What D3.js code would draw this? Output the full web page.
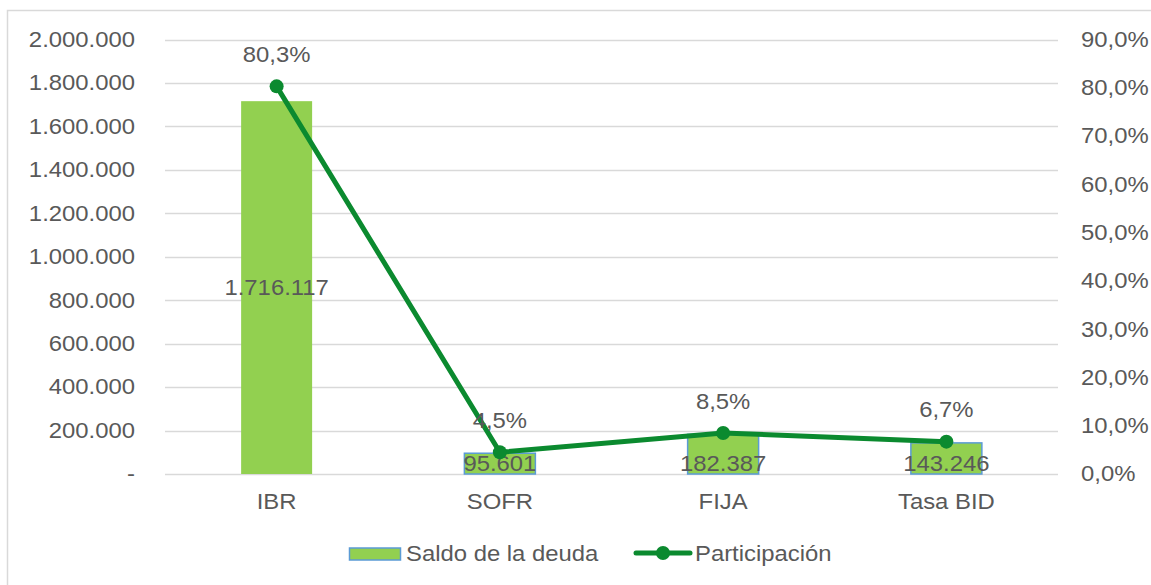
<!DOCTYPE html>
<html>
<head>
<meta charset="utf-8">
<script src="https://cdn.jsdelivr.net/npm/d3@7"></script>
<style>
  html, body { margin: 0; padding: 0; background: #fff; }
  svg { display: block; }
  text { font-family: "Liberation Sans", Arial, sans-serif; fill: #595959; }
</style>
</head>
<body>
<svg id="chart" width="1151" height="585"></svg>
<script>
// ---- data ----
const categories = ["IBR", "SOFR", "FIJA", "Tasa BID"];
const saldo = [1716117, 95601, 182387, 143246];
const participacion = [0.803, 0.045, 0.085, 0.067];
const leftTicks = [0, 200000, 400000, 600000, 800000, 1000000, 1200000, 1400000, 1600000, 1800000, 2000000];
const rightTicks = [0, 0.1, 0.2, 0.3, 0.4, 0.5, 0.6, 0.7, 0.8, 0.9];
const seriesNames = ["Saldo de la deuda", "Participación"];

// ---- styles ----
const barFill = "#92D050", barStroke = "#5B9BD5", lineColor = "#0B8A2F";
const gridColor = "#D9D9D9", fontSize = 21.5, sx = 1.11;

const loc = d3.formatLocale({decimal: ",", thousands: ".", grouping: [3], currency: ["$", ""]});
const fmtNum = v => v === 0 ? "-" : loc.format(",.0f")(v);
const fmtPct = loc.format(".1%");

const svg = d3.select("#chart");
const plot = {left: 165, right: 1058, top: 39.5, bottom: 474};

// place a text at (px,py) with a slight horizontal stretch
function putText(g, px, py, str, anchor) {
  return g.append("text")
    .attr("transform", `translate(${px},${py}) scale(${sx},1)`)
    .attr("text-anchor", anchor || "start").attr("dominant-baseline", "central")
    .attr("font-size", fontSize).text(str);
}

// chart border
svg.append("rect").attr("x", 7.5).attr("y", 10.5).attr("width", 1160).attr("height", 600)
  .attr("fill", "none").attr("stroke", gridColor).attr("stroke-width", 1.5);

const x = d3.scaleBand().domain(categories).range([plot.left, plot.right])
  .paddingInner(0.682).paddingOuter(0.341);
const y = d3.scaleLinear().domain([0, 2000000]).range([plot.bottom, plot.top]);
const y2 = d3.scaleLinear().domain([0, 0.9]).range([plot.bottom, plot.top]);

// gridlines
svg.append("g").selectAll("line").data(leftTicks).join("line")
  .attr("x1", plot.left).attr("x2", plot.right)
  .attr("y1", d => Math.round(y(d)) + 0.5).attr("y2", d => Math.round(y(d)) + 0.5)
  .attr("stroke", gridColor).attr("stroke-width", 1.5);

function styleAxisText(ax) {
  ax.select(".domain").remove();
  ax.selectAll("text").attr("font-size", fontSize)
    .style("font-family", "Liberation Sans, Arial, sans-serif")
    .attr("fill", "#595959")
    .attr("transform", `scale(${sx},1)`);
}

// left axis
const axL = svg.append("g").attr("transform", `translate(${135},0)`)
  .call(d3.axisLeft(y).tickValues(leftTicks).tickFormat(fmtNum).tickSize(0).tickPadding(0));
styleAxisText(axL);

// right axis
const axR = svg.append("g").attr("transform", `translate(${1081},0)`)
  .call(d3.axisRight(y2).tickValues(rightTicks).tickFormat(fmtPct).tickSize(0).tickPadding(0));
styleAxisText(axR);

// bottom category axis
const axB = svg.append("g").attr("transform", `translate(0,${plot.bottom})`)
  .call(d3.axisBottom(x).tickSize(0).tickPadding(20));
styleAxisText(axB);
axB.selectAll("text").attr("dy", "0.71em");

// bars
svg.append("g").selectAll("rect").data(categories).join("rect")
  .attr("x", d => x(d)).attr("width", x.bandwidth())
  .attr("y", (d, i) => y(saldo[i])).attr("height", (d, i) => y(0) - y(saldo[i]))
  .attr("fill", barFill)
  .attr("stroke", (d, i) => i === 0 ? "none" : barStroke).attr("stroke-width", 1.5);

// bar labels (centered in tall bars, at the base for short ones)
const gBarLbl = svg.append("g");
categories.forEach((c, i) => {
  const h = y(0) - y(saldo[i]);
  const ly = h > 60 ? (y(saldo[i]) + y(0)) / 2 : y(0) - 11;
  putText(gBarLbl, x(c) + x.bandwidth() / 2, ly, fmtNum(saldo[i]), "middle");
});

// line
const line = d3.line().x(d => x(d.c) + x.bandwidth() / 2).y(d => y2(d.v));
const pts = categories.map((c, i) => ({c, v: participacion[i]}));
svg.append("path").datum(pts).attr("d", line).attr("fill", "none")
  .attr("stroke", lineColor).attr("stroke-width", 5).attr("stroke-linejoin", "round");
svg.append("g").selectAll("circle").data(pts).join("circle")
  .attr("cx", d => x(d.c) + x.bandwidth() / 2).attr("cy", d => y2(d.v)).attr("r", 7)
  .attr("fill", lineColor);
const gPtLbl = svg.append("g");
pts.forEach(d => putText(gPtLbl, x(d.c) + x.bandwidth() / 2, y2(d.v) - 32, fmtPct(d.v), "middle"));

// legend
const lg = svg.append("g");
lg.append("rect").attr("x", 349.5).attr("y", 548).attr("width", 51).attr("height", 12)
  .attr("fill", barFill).attr("stroke", barStroke).attr("stroke-width", 1.5);
putText(lg, 406, 553, seriesNames[0]);
lg.append("line").attr("x1", 636).attr("x2", 690).attr("y1", 553).attr("y2", 553)
  .attr("stroke", lineColor).attr("stroke-width", 5).attr("stroke-linecap", "round");
lg.append("circle").attr("cx", 663).attr("cy", 553).attr("r", 7).attr("fill", lineColor);
putText(lg, 695, 553, seriesNames[1]);
</script>
</body>
</html>
